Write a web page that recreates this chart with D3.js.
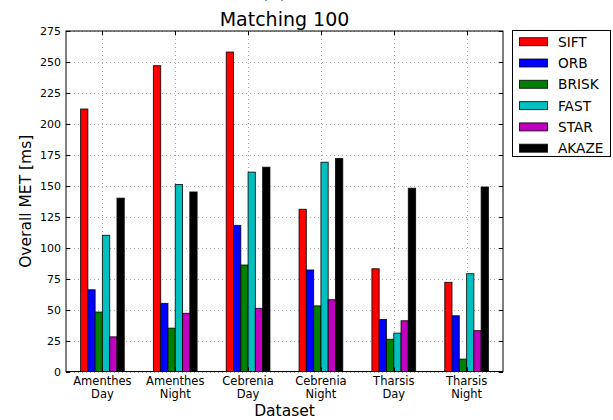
<!DOCTYPE html>
<html>
<head>
<meta charset="utf-8">
<script src="https://cdn.jsdelivr.net/npm/d3@7"></script>
<style>
  html, body { margin: 0; padding: 0; background: #fff; }
  svg { display: block; font-family: "DejaVu Sans", sans-serif; }
</style>
</head>
<body>
<svg id="chart" width="613" height="420"></svg>
<script>
// Datasets (two-line tick labels) and detector names
const datasets = [["Amenthes", "Day"], ["Amenthes", "Night"], ["Cebrenia", "Day"],
                  ["Cebrenia", "Night"], ["Tharsis", "Day"], ["Tharsis", "Night"]];
const detectors = ["SIFT", "ORB", "BRISK", "FAST", "STAR", "AKAZE"];
const colors = ["#ff0000", "#0000ff", "#008000", "#00bfbf", "#bf00bf", "#000000"];

// Overall MET [ms] per detector, one value per dataset
const sift  = [212, 247, 258, 131, 83, 72];
const orb   = [66, 55, 118, 82, 42, 45];
const brisk = [48, 35, 86, 53, 26, 10];
const fast  = [110, 151, 161, 169, 31, 79];
const star  = [28, 47, 51, 58, 41, 33];
const akaze = [140, 145, 165, 172, 148, 149];
const series = [sift, orb, brisk, fast, star, akaze];

const yTicks = d3.range(0, 276, 25);

const svg = d3.select("#chart");
const m = { left: 66, right: 503, top: 31, bottom: 371.5 };

const x = d3.scaleLinear().domain([-0.5, 5.5]).range([m.left, m.right]);
const y = d3.scaleLinear().domain([0, 275]).range([m.bottom, m.top]);

// Grid (dotted)
const grid = svg.append("g").attr("stroke", "#000").attr("stroke-width", 0.6)
  .attr("stroke-dasharray", "1,3").attr("opacity", 0.55);
grid.selectAll("line.h").data(yTicks).join("line").attr("class", "h")
  .attr("x1", m.left).attr("x2", m.right)
  .attr("y1", d => Math.round(y(d)) + 0.5).attr("y2", d => Math.round(y(d)) + 0.5);
grid.selectAll("line.v").data(d3.range(datasets.length)).join("line").attr("class", "v")
  .attr("x1", d => Math.round(x(d)) + 0.5).attr("x2", d => Math.round(x(d)) + 0.5)
  .attr("y1", m.top).attr("y2", m.bottom);

// Bars
const barW = 0.1;
series.forEach((vals, j) => {
  svg.append("g").selectAll("rect").data(vals).join("rect")
    .attr("x", (v, i) => x(i - 0.3 + j * barW))
    .attr("width", x(barW) - x(0))
    .attr("y", v => y(v))
    .attr("height", v => y(0) - y(v))
    .attr("fill", colors[j])
    .attr("stroke", "#000").attr("stroke-width", 1).attr("stroke-opacity", 0.8);
});

// Frame
svg.append("rect").attr("x", m.left).attr("y", m.top)
  .attr("width", m.right - m.left).attr("height", m.bottom - m.top)
  .attr("fill", "none").attr("stroke", "#000").attr("stroke-width", 1);

// Inward ticks on all sides
const ticks = svg.append("g").attr("stroke", "#000").attr("stroke-width", 1);
yTicks.forEach(t => {
  const yy = Math.round(y(t)) + 0.5;
  ticks.append("line").attr("x1", m.left).attr("x2", m.left + 4).attr("y1", yy).attr("y2", yy);
  ticks.append("line").attr("x1", m.right).attr("x2", m.right - 4).attr("y1", yy).attr("y2", yy);
});
d3.range(datasets.length).forEach(i => {
  const xx = Math.round(x(i)) + 0.5;
  ticks.append("line").attr("x1", xx).attr("x2", xx).attr("y1", m.bottom).attr("y2", m.bottom - 4);
  ticks.append("line").attr("x1", xx).attr("x2", xx).attr("y1", m.top).attr("y2", m.top + 4);
});

// Y tick labels
svg.append("g").selectAll("text").data(yTicks).join("text")
  .attr("x", m.left - 5).attr("y", d => y(d) + 4)
  .attr("text-anchor", "end").attr("font-size", 11).attr("fill", "#000")
  .text(d => d);

// X tick labels (two lines)
const xl = svg.append("g").selectAll("text").data(datasets).join("text")
  .attr("text-anchor", "middle").attr("font-size", 11.5).attr("fill", "#000");
xl.append("tspan").attr("x", (d, i) => x(i)).attr("y", 385).text(d => d[0]);
xl.append("tspan").attr("x", (d, i) => x(i)).attr("y", 397.5).text(d => d[1]);

// Axis labels
svg.append("text").attr("x", (m.left + m.right) / 2).attr("y", 416)
  .attr("text-anchor", "middle").attr("font-size", 15.5).text("Dataset");
svg.append("text")
  .attr("transform", `translate(31,${(m.top + m.bottom) / 2}) rotate(-90)`)
  .attr("text-anchor", "middle").attr("font-size", 15.5).text("Overall MET [ms]");

// Titles (the panel letter sits mostly above the top edge)
svg.append("text").attr("x", 274).attr("y", -2).attr("text-anchor", "middle")
  .attr("font-size", 20).text("(c)");
svg.append("text").attr("x", (m.left + m.right) / 2).attr("y", 26)
  .attr("text-anchor", "middle").attr("font-size", 19).text("Matching 100");

// Legend
const lg = svg.append("g");
lg.append("rect").attr("x", 512.5).attr("y", 30.5).attr("width", 98).attr("height", 126)
  .attr("fill", "#fff").attr("stroke", "#000").attr("stroke-width", 1);
detectors.forEach((name, j) => {
  const cy = 41.7 + j * 21.3;
  lg.append("rect").attr("x", 519.5).attr("y", cy - 4).attr("width", 28).attr("height", 8)
    .attr("fill", colors[j]).attr("stroke", "#000").attr("stroke-width", 1).attr("stroke-opacity", 0.8);
  lg.append("text").attr("x", 558).attr("y", cy + 5).attr("font-size", 13.7).text(name);
});
</script>
</body>
</html>
